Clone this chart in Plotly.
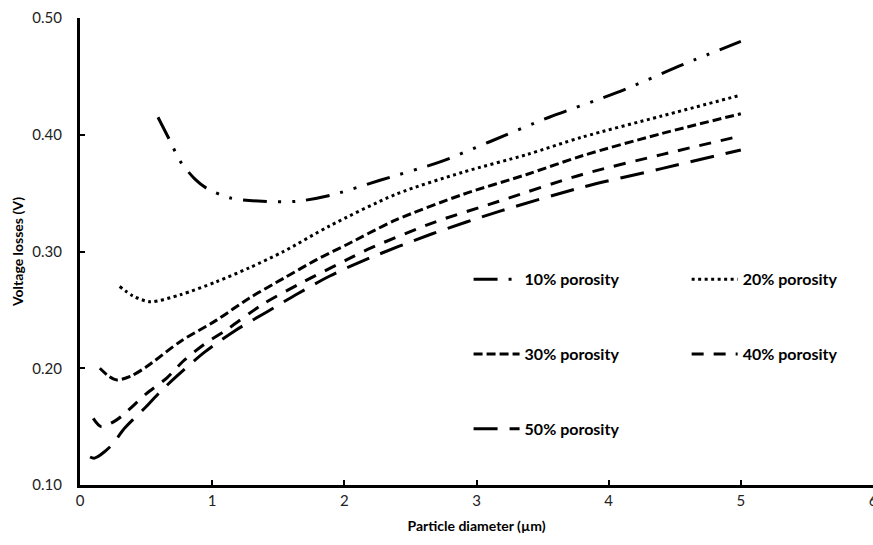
import plotly.graph_objects as go

# ---- data ----
names = ["10% porosity", "20% porosity", "30% porosity", "40% porosity", "50% porosity"]

x10 = [0.59, 0.68, 0.76, 0.87, 0.96, 1.13, 1.38, 1.64, 1.89, 2.27, 2.73, 3.10, 3.55, 4.06, 4.56, 5.0]
y10 = [0.415, 0.395, 0.377, 0.362, 0.354, 0.346, 0.343, 0.343, 0.348, 0.361, 0.377, 0.394, 0.415, 0.436, 0.460, 0.480]

x20 = [0.30, 0.40, 0.53, 0.76, 1.03, 1.28, 1.54, 1.89, 2.39, 2.90, 3.38, 3.80, 4.40, 5.0]
y20 = [0.270, 0.262, 0.257, 0.263, 0.274, 0.286, 0.300, 0.322, 0.349, 0.368, 0.383, 0.398, 0.416, 0.434]

x30 = [0.15, 0.22, 0.28, 0.38, 0.50, 0.76, 1.03, 1.28, 1.54, 1.79, 2.02, 2.39, 2.90, 3.38, 3.80, 4.40, 5.0]
y30 = [0.200, 0.193, 0.190, 0.193, 0.201, 0.223, 0.241, 0.260, 0.277, 0.293, 0.306, 0.327, 0.349, 0.366, 0.382, 0.401, 0.418]

x40 = [0.10, 0.16, 0.28, 0.50, 0.66, 0.78, 0.945, 1.11, 1.385, 1.69, 2.02, 2.18, 2.68, 3.17, 3.80, 4.40, 5.0]
y40 = [0.157, 0.150, 0.156, 0.178, 0.192, 0.206, 0.221, 0.233, 0.255, 0.274, 0.293, 0.302, 0.325, 0.343, 0.366, 0.383, 0.399]

x50 = [0.076, 0.11, 0.23, 0.34, 0.50, 0.60, 0.73, 0.945, 1.17, 1.41, 1.65, 1.89, 2.14, 2.66, 3.19, 3.80, 4.40, 5.0]
y50 = [0.124, 0.123, 0.133, 0.149, 0.167, 0.179, 0.193, 0.214, 0.232, 0.248, 0.264, 0.279, 0.292, 0.315, 0.335, 0.355, 0.371, 0.387]

x_ticks = [0, 1, 2, 3, 4, 5, 6]
y_ticks = [0.10, 0.20, 0.30, 0.40, 0.50]
y_tick_labels = ["0.10", "0.20", "0.30", "0.40", "0.50"]

series_x = [x10, x20, x30, x40, x50]
series_y = [y10, y20, y30, y40, y50]
dashes = ["24px,11px,3px,11px,3px,11px", "3px,3.5px", "9px,4px", "12px,10px", "24px,12px"]
legends = ["legend", "legend2", "legend", "legend2", "legend"]

FONT = "Lato"

fig = go.Figure()
for i in range(5):
    fig.add_trace(go.Scatter(
        x=series_x[i], y=series_y[i], mode="lines", name=names[i],
        line=dict(color="black", width=3, dash=dashes[i], shape="spline", smoothing=0.8),
        legend=legends[i], legendgroup=names[i],
    ))

legend_common = dict(
    orientation="v", bgcolor="rgba(0,0,0,0)", borderwidth=0,
    font=dict(family=FONT, size=16, color="black", weight="bold"),
    tracegroupgap=51, itemwidth=46, xanchor="left", yanchor="top",
)

fig.update_layout(
    width=873, height=545,
    margin=dict(l=80, r=0, t=18, b=60, autoexpand=False),
    paper_bgcolor="white", plot_bgcolor="white",
    font=dict(family=FONT, size=14, color="black"),
    showlegend=True,
    legend=dict(x=0.490, y=0.477, **legend_common),
    legend2=dict(x=0.765, y=0.477, **legend_common),
    xaxis=dict(
        range=[0, 6], tickvals=x_ticks, ticktext=[str(v) for v in x_ticks],
        showline=True, linecolor="black", linewidth=3,
        ticks="inside", ticklen=5, tickwidth=2, tickcolor="black",
        showgrid=False, zeroline=False, ticklabeloverflow="allow", automargin=False,
        tickfont=dict(family=FONT, size=15, color="#222"),
        title=dict(text="Particle diameter (µm)", font=dict(family=FONT, size=14, color="black", weight="bold"), standoff=14),
    ),
    yaxis=dict(
        range=[0.1, 0.5], tickvals=y_ticks, ticktext=y_tick_labels,
        showline=True, linecolor="black", linewidth=3,
        ticks="inside", ticklen=5, tickwidth=2, tickcolor="black",
        showgrid=False, zeroline=False, automargin=False,
        tickfont=dict(family=FONT, size=15, color="#222"),
        ticklabelstandoff=12,
        title=dict(text="Voltage losses (V)", font=dict(family=FONT, size=14, color="black", weight="bold"), standoff=6),
    ),
)

fig.write_html("out.html")
